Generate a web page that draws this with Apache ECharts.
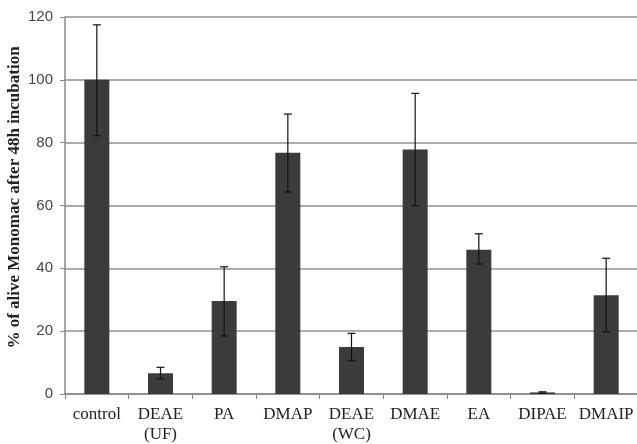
<!DOCTYPE html>
<html><head><meta charset="utf-8">
<script src="https://cdn.jsdelivr.net/npm/echarts@6/dist/echarts.min.js"></script>
<style>html,body{margin:0;padding:0;background:#fff}#c{width:637px;height:444px}</style>
</head><body><div id="c"></div>
<script>
const categories = ['control', 'DEAE\n(UF)', 'PA', 'DMAP', 'DEAE\n(WC)', 'DMAE', 'EA', 'DIPAE', 'DMAIP'];
const values = [100, 6.6, 29.6, 76.8, 15.0, 77.8, 45.9, 0.5, 31.4];
const errLow = [82.2, 4.8, 18.5, 64.3, 10.6, 59.9, 41.4, 0.3, 19.8];
const errHigh = [117.5, 8.5, 40.5, 89.1, 19.3, 95.7, 51.0, 0.7, 43.2];
const yTicks = [0, 20, 40, 60, 80, 100, 120];

const chart = echarts.init(document.getElementById('c'));
chart.setOption({
  animation: false,
  grid: { left: 65, right: -1, top: 17, bottom: 50, containLabel: false, outerBoundsMode: 'none' },
  xAxis: {
    type: 'category', data: categories,
    axisLine: { lineStyle: { color: '#888', width: 1.5 } },
    axisTick: { show: true, length: 5, lineStyle: { color: '#888' } },
    axisLabel: { fontFamily: 'Liberation Serif', fontSize: 17, color: '#222', lineHeight: 20, margin: 11, interval: 0 }
  },
  yAxis: {
    type: 'value', min: 0, max: 120, interval: 20,
    name: '% of alive Monomac after 48h incubation',
    nameLocation: 'middle', nameGap: 42, nameMoveOverlap: false,
    nameTextStyle: { fontFamily: 'Liberation Serif', fontWeight: 'bold', fontSize: 17, color: '#222', padding: [0, 0, 0, 16] },
    axisLine: { show: true, lineStyle: { color: '#888', width: 1.5 } },
    axisTick: { show: true, inside: false, length: 5, lineStyle: { color: '#888' } },
    splitLine: { lineStyle: { color: '#909090', width: 1.6 } },
    axisLabel: { fontFamily: 'Liberation Sans', fontSize: 15, color: '#444', margin: 12,
      formatter: v => yTicks.includes(v) ? String(v) : '' }
  },
  series: [
    { type: 'bar', data: values, barWidth: 25, itemStyle: { color: '#3b3b3b' }, z: 2 },
    { type: 'custom', z: 3,
      data: categories.map((c, i) => [i, errLow[i], errHigh[i]]),
      renderItem: function (params, api) {
        const lo = api.coord([api.value(0), api.value(1)]);
        const hi = api.coord([api.value(0), api.value(2)]);
        const hw = 4;
        const st = { stroke: '#111', lineWidth: 1.2 };
        return { type: 'group', children: [
          { type: 'line', shape: { x1: lo[0], y1: lo[1], x2: hi[0], y2: hi[1] }, style: st },
          { type: 'line', shape: { x1: hi[0] - hw, y1: hi[1], x2: hi[0] + hw, y2: hi[1] }, style: st },
          { type: 'line', shape: { x1: lo[0] - hw, y1: lo[1], x2: lo[0] + hw, y2: lo[1] }, style: st }
        ]};
      }
    }
  ]
});
</script></body></html>
